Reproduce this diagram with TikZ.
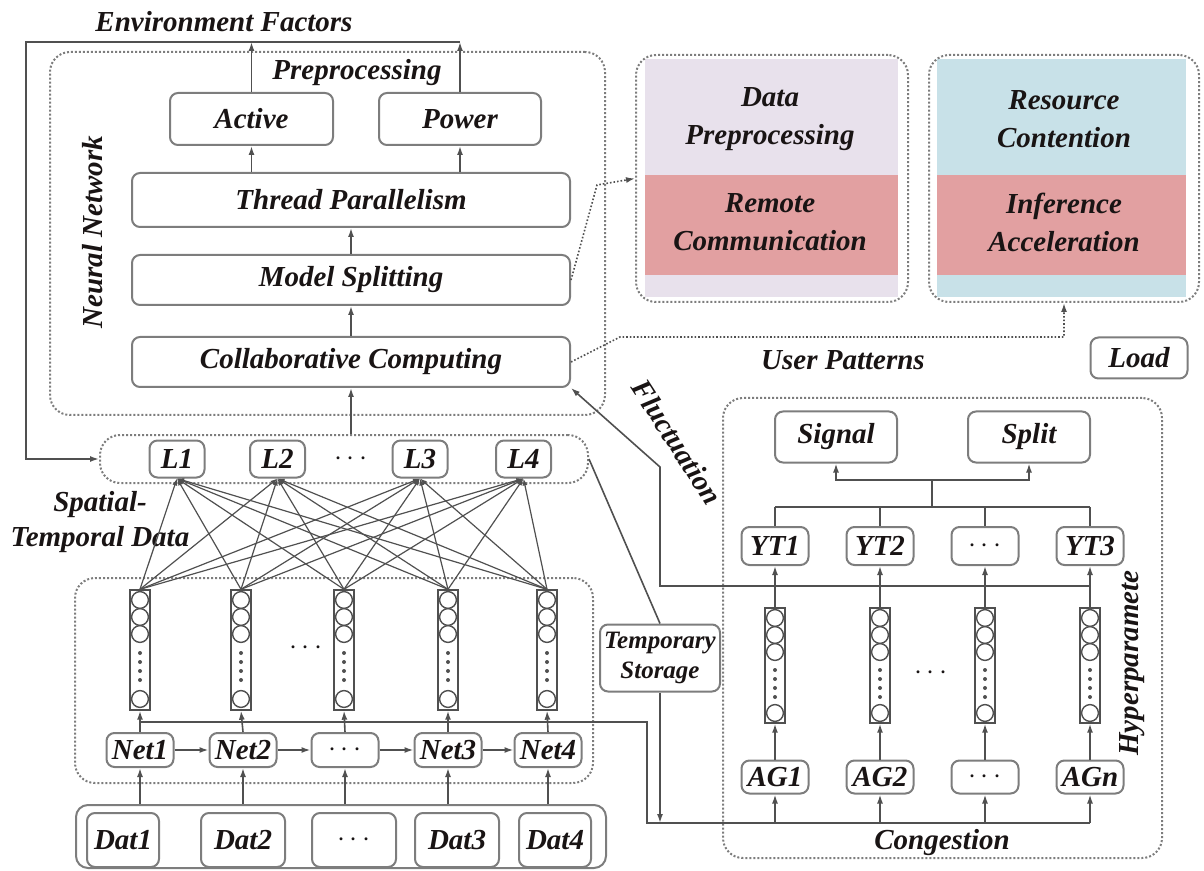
\documentclass[tikz,border=0pt]{standalone}
\usepackage{fontspec}
\setmainfont{Liberation Serif}
\usetikzlibrary{arrows.meta}
\definecolor{lav}{RGB}{232,225,236}
\definecolor{rose}{RGB}{226,160,161}
\definecolor{sky}{RGB}{200,225,232}
\definecolor{edgec}{RGB}{125,125,125}
\definecolor{wirec}{RGB}{80,80,80}
\definecolor{ink}{RGB}{25,20,20}
\tikzset{
  box/.style={draw=edgec, line width=1pt, rounded corners=4pt, fill=white, inner sep=1pt, text=ink},
  grp/.style={draw=edgec, line width=1pt, densely dotted, rounded corners=10pt, inner sep=0pt},
  lbl/.style={text=ink, inner sep=0pt},
  wire/.style={draw=wirec, line width=0.8pt},
  arr/.style={wire, -{Latex[length=4.5pt,width=3pt]}},
  darr/.style={arr, densely dotted},
  vec/.style={draw=wirec, line width=0.7pt, minimum width=10pt, inner sep=0pt},
  lsz/.style={minimum width=27.5pt, minimum height=18.5pt},
  nsz/.style={minimum width=33.5pt, minimum height=17pt},
  ysz/.style={minimum width=33.5pt, minimum height=19pt},
  asz/.style={minimum width=33.5pt, minimum height=16.5pt},
}
\begin{document}
\begin{tikzpicture}[x=0.5pt, y=-0.5pt, font=\bfseries\itshape\fontsize{14.5}{19}\selectfont]
    \useasboundingbox (0,0) rectangle (1204,871);
    % ---- coloured panels ----
    \fill[lav] (645,59) rectangle (898,297);
    \fill[rose] (645,175) rectangle (898,275);
    \fill[sky] (937,59) rectangle (1186,297);
    \fill[rose] (937,175) rectangle (1186,275);
    \node[grp, minimum width=136pt, minimum height=123.5pt] (boxA) at (772,178.5) {};
    \node[grp, minimum width=135pt, minimum height=123.5pt] (boxB) at (1064,178.5) {};
    \node[lbl, align=center] (dataprep) at (770,119) {Data\\Preprocessing};
    \node[lbl, align=center] (remote) at (770,222.5) {Remote\\Communication};
    \node[lbl, align=center] (resource) at (1064,119) {Resource\\Contention};
    \node[lbl, align=center] (infer) at (1064,222.5) {Inference\\Acceleration};
    % ---- neural network ----
    \node[grp, minimum width=277.5pt, minimum height=181.5pt] (nnbox) at (327.5,233.5) {};
    \node[lbl] (env) at (224,22) {Environment Factors};
    \node[lbl] (prep) at (357,73) {Preprocessing};
    \node[lbl, rotate=90] (nnlab) at (93,232) {Neural Network};
    \node[box, minimum width=81.5pt, minimum height=26pt] (active) at (251.5,119) {Active};
    \node[box, minimum width=81pt, minimum height=26pt] (power) at (460,119) {Power};
    \node[box, minimum width=219pt, minimum height=27pt] (thread) at (351,200) {Thread Parallelism};
    \node[box, minimum width=219pt, minimum height=25pt] (msplit) at (351,280) {Model Splitting};
    \node[box, minimum width=219pt, minimum height=25pt] (collab) at (351,362) {Collaborative Computing};
    \draw[arr] (thread.north -| active) -- (active.south);
    \draw[arr] (thread.north -| power) -- (power.south);
    \draw[arr] (msplit.north) -- (thread.south);
    \draw[arr] (collab.north) -- (msplit.south);
    % ---- L row ----
    \node[grp, minimum width=244pt, minimum height=24pt] (lgroup) at (344,459) {};
    \node[box, lsz] (l1) at (177,459) {L1};
    \node[box, lsz] (l2) at (277.5,459) {L2};
    \node[lbl] (ldots) at (351,459) {$\cdots$};
    \node[box, lsz] (l3) at (420,459) {L3};
    \node[box, lsz] (l4) at (523.5,459) {L4};
    \draw[arr] (lgroup.north -| collab) -- (collab.south);
    \node[lbl, align=center, font=\bfseries\itshape\fontsize{14.5}{17.5}\selectfont] (stdata) at (100,522) {Spatial-\\Temporal Data};
    % ---- feedback ----
    \coordinate (fbL) at (26,42);
    \draw[arr] (active.north) -- (active.north |- fbL);
    \draw[arr] (power.north) -- (power.north |- fbL);
    \draw[arr] (power.north |- fbL) -- (fbL) |- (lgroup.west);
    % ---- net / data rows ----
    \node[grp, minimum width=259pt, minimum height=102.5pt] (netgroup) at (334,680.5) {};
    \node[draw=edgec, line width=1pt, rounded corners=6pt, minimum width=265pt, minimum height=31.5pt] (datgroup) at (341,836.5) {};
    \foreach \x/\t [count=\i] in {140/Net1, 243/Net2, 345/{$\cdots$}, 448/Net3, 548/Net4}
        \node[box, nsz] (net\i) at (\x,750) {\t};
    \foreach \x/\w/\t [count=\i] in {123/36/Dat1, 243/42/Dat2, 354/42/{$\cdots$}, 457/42/Dat3, 555/36/Dat4}
        \node[box, minimum width=\w pt, minimum height=27pt] (dat\i) at (\x,840) {\t};
    \foreach \i/\j in {1/2,2/3,3/4,4/5}
        \draw[arr] (net\i.east) -- (net\j.west);
    \foreach \x [count=\i] in {140,241,344,448,547} {
        \node[vec, minimum height=60pt] (va\i) at (\x,650) {};
        \foreach \y in {600,617,634,699}
            \draw[wirec, line width=0.7pt] (\x,\y) circle (4.2pt);
        \foreach \y in {653,662,671,680}
            \fill[wirec] (\x,\y) circle (1pt);
        \draw[arr] (net\i.north) -- (va\i.south);
        \draw[arr] (datgroup.north -| net\i) -- (net\i.south);
    }
    \node[lbl] (adots) at (306,648) {$\cdots$};
    \foreach \i in {1,...,5}
        \foreach \k in {1,...,4}
            \draw[arr, line width=0.6pt, -{Latex[length=3.5pt,width=2.5pt]}] (va\i.north) -- (l\k.south);
    % ---- right top ----
    \coordinate (msA) at (597,185);
    \coordinate (ccA) at (620,337);
    \draw[darr] (msplit.east) -- (msA) -- (boxA.west);
    \draw[darr] (collab.east) -- (ccA) -- (ccA -| boxB.south) -- (boxB.south);
    \node[lbl] (users) at (843,360) {User Patterns};
    \node[box, minimum width=48.5pt, minimum height=20.5pt] (load) at (1139,358) {Load};
    % ---- hyperparameter block ----
    \node[grp, minimum width=219.5pt, minimum height=230pt] (hyper) at (942.5,628) {};
    \node[box, minimum width=61pt, minimum height=25.5pt] (sig) at (836,437) {Signal};
    \node[box, minimum width=61pt, minimum height=25.5pt] (spl) at (1029,437) {Split};
    \coordinate (brA) at (932,480);
    \coordinate (brB) at (932,507);
    \coordinate (cg) at (647,823);
    \draw[arr] (brA) -| (sig.south);
    \draw[arr] (brA) -| (spl.south);
    \draw[wire] (brA) -- (brB);
    \foreach \x/\t/\a [count=\i] in {775/YT1/AG1, 880/YT2/AG2, 985/{$\cdots$}/{$\cdots$}, 1090/YT3/AGn} {
        \node[box, ysz] (yt\i) at (\x,546) {\t};
        \node[box, asz] (ag\i) at (\x,777) {\a};
        \node[vec, minimum height=57.5pt] (vb\i) at (\x,665.5) {};
        \foreach \y in {618,635,652,713}
            \draw[wirec, line width=0.7pt] (\x,\y) circle (4.2pt);
        \foreach \y in {670,679,688,697}
            \fill[wirec] (\x,\y) circle (1pt);
        \draw[arr] (ag\i.north) -- (vb\i.south);
        \draw[arr] (vb\i.north) -- (yt\i.south);
        \draw[arr] (ag\i.south |- cg) -- (ag\i.south);
        \draw[wire] (yt\i.north |- brB) -- (yt\i.north);
    }
    \draw[wire] (yt1.north |- brB) -- (yt4.north |- brB);
    \node[lbl] (bdots) at (931,673) {$\cdots$};
    \node[lbl, rotate=90] (hyplab) at (1132,663) {Hyperparamete};
    \node[lbl] (congest) at (942,843) {Congestion};
    % ---- storage and buses ----
    \node[box, align=center, font=\bfseries\itshape\fontsize{12.5}{15}\selectfont, minimum width=60pt, minimum height=33.5pt] (ts) at (660,658) {Temporary\\Storage};
    \draw[wire] (lgroup.east) -- (ts.north);
    \draw[arr] (ts.south) -- (ts.south |- cg);
    \draw[wire] (va1.south |- 0,722) -- (cg |- 0,722) -- (cg) -- (ag4.south |- cg);
    % ---- fluctuation ----
    \coordinate (flA) at (660,586);
    \coordinate (flB) at (660,467);
    \draw[arr] (yt4.south |- flA) -- (flA) -- (flB) -- (collab.south east);
    \node[lbl, rotate=-57] (fluct) at (677,442) {Fluctuation};
\end{tikzpicture}
\end{document}
